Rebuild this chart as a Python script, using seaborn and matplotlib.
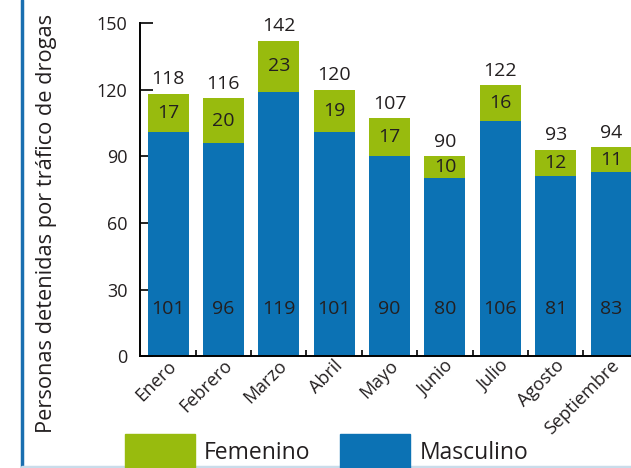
import numpy as np
import pandas as pd
import seaborn as sns
import matplotlib.pyplot as plt
from matplotlib.lines import Line2D
from matplotlib.patches import Patch
import matplotlib.transforms as mtransforms

# Data
meses = ['Enero', 'Febrero', 'Marzo', 'Abril', 'Mayo', 'Junio', 'Julio', 'Agosto', 'Septiembre']
masculino = [101, 96, 119, 101, 90, 80, 106, 81, 83]
femenino = [17, 20, 23, 19, 17, 10, 16, 12, 11]
totales = [118, 116, 142, 120, 107, 90, 122, 93, 94]

azul = '#0c72b4'
verde = '#98bb0e'
texto = '#231f20'

sns.set_theme(style='white')
plt.rcParams['font.family'] = ['Open Sans', 'DejaVu Sans']
plt.rcParams['text.color'] = texto

df = pd.DataFrame({'Mes': meses, 'Masculino': masculino, 'Femenino': femenino})
df['Total'] = df['Masculino'] + df['Femenino']

fig = plt.figure(figsize=(6.31, 4.68), dpi=100)
ax = fig.add_axes([0.222, 0.239, 0.778, 0.712])

# stacked bars: total in green, male drawn over it in blue
sns.barplot(data=df, x='Mes', y='Total', color=verde, width=0.74, saturation=1, linewidth=0, ax=ax)
sns.barplot(data=df, x='Mes', y='Masculino', color=azul, width=0.74, saturation=1, linewidth=0, ax=ax)

ax.set_xlim(-0.505, 8.36)
ax.set_ylim(0, 150)
ax.set_yticks([0, 30, 60, 90, 120, 150])
ax.set_xlabel('')
ax.set_ylabel('')

for s in ['top', 'right']:
    ax.spines[s].set_visible(False)
for s in ['left', 'bottom']:
    ax.spines[s].set_color('black')
    ax.spines[s].set_linewidth(1.4)

ax.tick_params(axis='y', direction='in', length=9, width=1.2, color='black',
               labelsize=13, pad=9, left=True, labelcolor=texto)
ax.tick_params(axis='x', which='major', length=0, labelsize=13, pad=5, labelcolor=texto)
ax.set_xticks(np.arange(0.5, 8, 1), minor=True)
ax.tick_params(axis='x', which='minor', direction='in', length=4, width=1.2, color='black', bottom=True)

offset = mtransforms.ScaledTranslation(4 / 72, 0, fig.dpi_scale_trans)
for lab in ax.get_xticklabels():
    lab.set_rotation(45)
    lab.set_ha('right')
    lab.set_va('center')
    lab.set_rotation_mode('anchor')
    lab.set_transform(lab.get_transform() + offset)

# value labels
for i in range(len(meses)):
    ax.text(i, 21, str(masculino[i]), ha='center', va='center', fontsize=14, color=texto)
    ax.text(i, masculino[i] + femenino[i] / 2, str(femenino[i]), ha='center', va='center',
            fontsize=14, color=texto)
    ax.annotate(str(totales[i]), (i, totales[i]), xytext=(0, 4), textcoords='offset points',
                ha='center', va='bottom', fontsize=14, color=texto)

fig.text(47 / 631, 1 - 223.5 / 468, 'Personas detenidas por tráfico de drogas', rotation=90,
         ha='center', va='center', fontsize=15.7, color=texto)

handles = [Patch(color=verde, label='Femenino'), Patch(color=azul, label='Masculino')]
fig.legend(handles=handles, ncol=2, loc='center left', bbox_to_anchor=(125 / 631, 1 - 452 / 468),
           frameon=False, fontsize=16.5, handlelength=3.05, handleheight=2.0,
           handletextpad=0.4, columnspacing=1.3, borderpad=0, borderaxespad=0)

# frame lines of the original page
fig.add_artist(Line2D([21.5 / 631, 21.5 / 631], [0, 1], color='#1a6fb0', lw=2.5))
fig.add_artist(Line2D([21.5 / 631, 1], [1.5 / 468, 1.5 / 468], color='#c9dcea', lw=2.5))

fig.savefig('out.png', dpi=100)
